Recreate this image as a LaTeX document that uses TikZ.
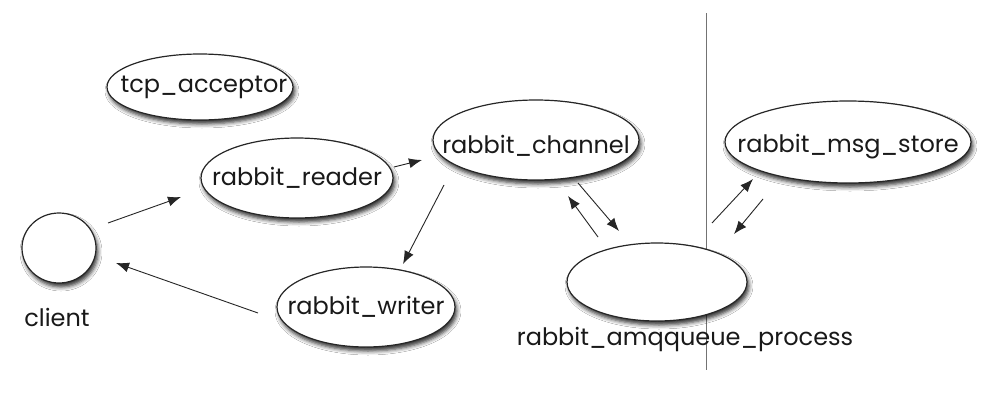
\documentclass[tikz,border=0pt]{standalone}
\usepackage{fontspec}
\setmainfont{Poppins}
\usetikzlibrary{shapes.geometric,arrows.meta,shadows.blur}
\tikzset{
  proc/.style={ellipse, draw=black!85, line width=1.2pt, fill=white, inner sep=0pt,
    blur shadow={shadow xshift=2pt, shadow yshift=-4pt, shadow blur radius=4pt, shadow opacity=80}},
  txt/.style={inner sep=0pt, font=\fontsize{24}{28}\selectfont, text=black!90},
  conn/.style={line width=0.9pt, draw=black!85, -{Latex[length=13pt,width=10pt]}},
  divider/.style={line width=0.9pt, draw=black!55}
}
\begin{document}
\begin{tikzpicture}[x=1pt,y=-1pt]
\useasboundingbox (0,0) rectangle (1000,415);
\fill[white] (0,0) rectangle (1000,415);
% divider line
\coordinate (lt) at (706,13);
\coordinate (lb) at (706,370);
\draw[divider] (lt) -- (lb);
% nodes
\node[proc, minimum width=186pt, minimum height=66pt] (tcp) at (200,87) {};
\node[txt] (tcpl) at (204,87) {tcp\_acceptor};
\node[proc, minimum width=192pt, minimum height=80pt] (reader) at (297,178) {};
\node[txt] (readerl) at (297,178) {rabbit\_reader};
\node[proc, minimum width=178pt, minimum height=80pt] (writer) at (366,307) {};
\node[txt] (writerl) at (366,307) {rabbit\_writer};
\node[proc, minimum width=74pt, minimum height=70pt] (client) at (59,248) {};
\node[txt] (clientl) at (57,317) {client};
\node[proc, minimum width=206pt, minimum height=80pt] (channel) at (536,140) {};
\node[txt] (channell) at (536,146) {rabbit\_channel};
\node[proc, minimum width=246pt, minimum height=82pt] (store) at (848,142) {};
\node[txt] (storel) at (848,147) {rabbit\_msg\_store};
\node[proc, minimum width=180pt, minimum height=78pt] (queue) at (657,282) {};
\node[txt] (queuel) at (685,339) {rabbit\_amqqueue\_process};
% arrow end points
\coordinate (a1s) at (108,223); \coordinate (a1e) at (181,197);
\coordinate (a2s) at (394,167); \coordinate (a2e) at (422,160);
\coordinate (a3s) at (444,185); \coordinate (a3e) at (403,264);
\coordinate (a4s) at (258,313); \coordinate (a4e) at (116,263);
\coordinate (a5s) at (578,183); \coordinate (a5e) at (619,231);
\coordinate (a6s) at (598,237); \coordinate (a6e) at (568,196);
\coordinate (a7s) at (712,223); \coordinate (a7e) at (753,179);
\coordinate (a8s) at (763,199); \coordinate (a8e) at (734,234);
\draw[conn] (a1s) -- (a1e);
\draw[conn] (a2s) -- (a2e);
\draw[conn] (a3s) -- (a3e);
\draw[conn] (a4s) -- (a4e);
\draw[conn] (a5s) -- (a5e);
\draw[conn] (a6s) -- (a6e);
\draw[conn] (a7s) -- (a7e);
\draw[conn] (a8s) -- (a8e);
\end{tikzpicture}
\end{document}
